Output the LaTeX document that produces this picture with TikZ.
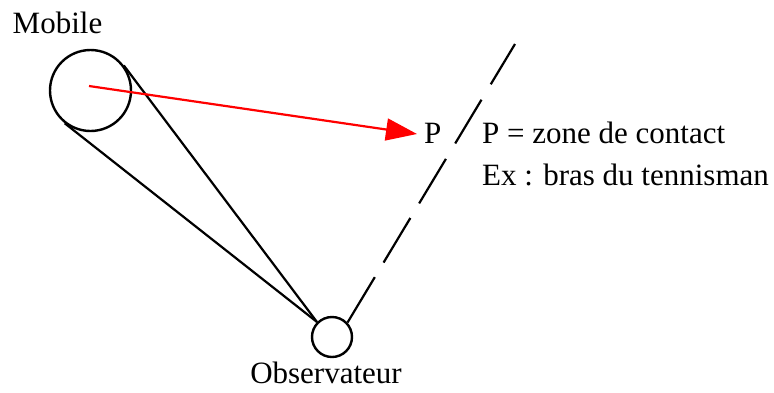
\documentclass[tikz,border=0pt]{standalone}
\usepackage{fontspec}
\setmainfont{Liberation Serif}
\usetikzlibrary{arrows.meta,calc}
\begin{document}
\begin{tikzpicture}[x=1pt,y=-1pt,
  txt/.style={inner sep=0pt,font=\fontsize{31}{36}\selectfont},
  body/.style={circle,draw=black,line width=2.4pt,inner sep=0pt},
  line/.style={draw=black,line width=2.2pt},
  ray/.style={draw=red,line width=2.2pt,-{Triangle[length=31pt,width=22pt]}}]
\useasboundingbox (0,0) rectangle (774,392);
\node[body,minimum size=81pt] (mob) at (90.5,90.5) {};
\node[body,minimum size=40pt] (obs) at (332,337) {};
\coordinate (mc) at (89,86);
\coordinate (tip) at (417,134);
\coordinate (far) at (515,44);
\node[txt,anchor=base] (lmob) at (57.5,33) {Mobile};
\node[txt,anchor=base] (lobs) at (326,383) {Observateur};
\node[txt,anchor=base west] (lp) at (424,143) {P};
\node[txt,anchor=base west] (l1) at (482,143) {P = zone de contact};
\node[txt,anchor=base west] (l2) at (482,185) {Ex : bras du tennisman};
\coordinate (ot) at (obs.135);
\draw[line] (tangent cs:node=mob,point={(ot)},solution=1) -- (ot);
\draw[line] (tangent cs:node=mob,point={(ot)},solution=2) -- (ot);
\draw[line,dash pattern=on 53pt off 17pt on 52pt off 17pt on 52pt off 18pt on 51pt off 18pt on 60pt] (obs.43) -- (far);
\draw[ray] (mc) -- (tip);
\end{tikzpicture}
\end{document}
